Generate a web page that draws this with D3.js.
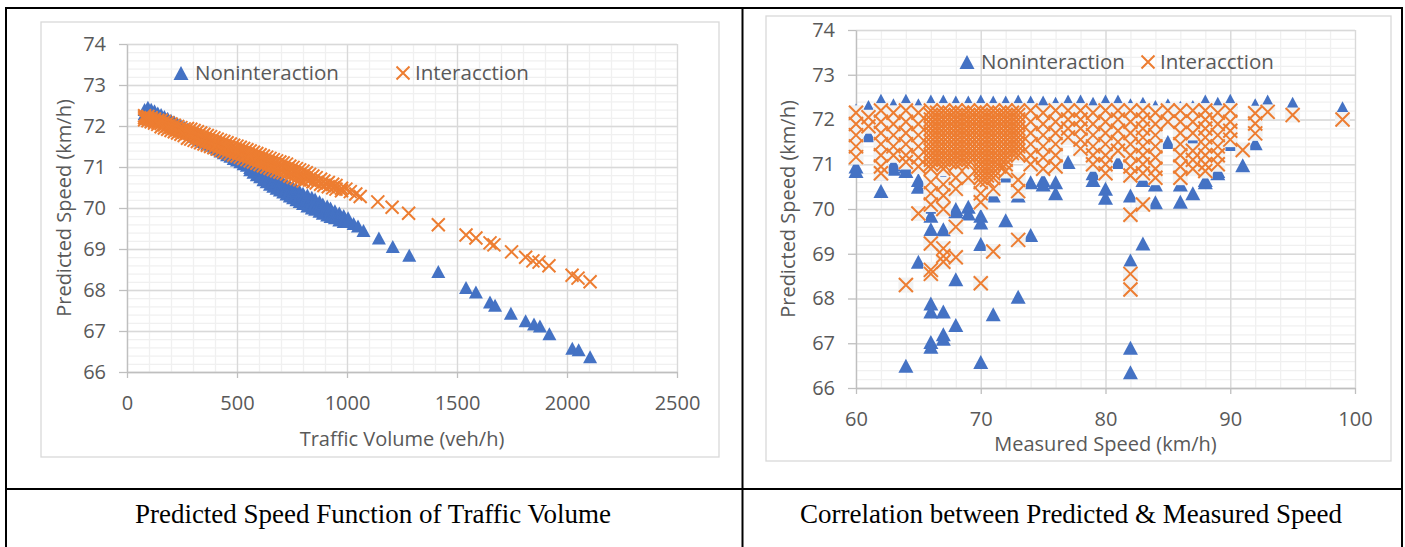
<!DOCTYPE html>
<html>
<head>
<meta charset="utf-8">
<script src="https://cdn.jsdelivr.net/npm/d3@7"></script>
<style>
body { margin: 0; background: #fff; }
svg text { font-family: "Open Sans", sans-serif; fill: #595959; }
svg text.caption { font-family: "Liberation Serif", "Times New Roman", serif; fill: #000; }
</style>
</head>
<body>
<script>
// ---- data ----
var seriesNames = ["Noninteraction", "Interacction"];
var captions = ["Predicted Speed Function of Traffic Volume", "Correlation between Predicted & Measured Speed"];
var axisTitles = ["Traffic Volume (veh/h)", "Measured Speed (km/h)", "Predicted Speed (km/h)"];
var volumeTicks = [0, 500, 1000, 1500, 2000, 2500];
var measuredTicks = [60, 70, 80, 90, 100];
var speedTicks = [66, 67, 68, 69, 70, 71, 72, 73, 74];

// left chart: traffic volume vs predicted speed (speeds listed per volume)
var volNon = [80, 95, 110, 125, 140, 155, 170, 185, 200, 215, 230, 245, 260, 275, 290, 305, 320, 335, 350, 365,
	380, 395, 410, 425, 440, 455, 470, 485, 500, 515, 530, 545, 560, 575, 590, 605, 620, 635, 650, 665,
	680, 695, 710, 725, 740, 755, 770, 785, 800, 820, 840, 855, 875, 890, 910, 925, 945, 965, 985, 1005,
	1030, 1050, 1075, 1145, 1208, 1283, 1415, 1541, 1586, 1650, 1673, 1745, 1812, 1850, 1877, 1920, 2024, 2053, 2105];
var speedNon = [
	[72.30, 72.40], [72.46, 72.38], [72.41, 72.33], [72.37, 72.29], [72.32, 72.24], [72.28, 72.20], [72.23, 72.15], [72.19, 72.11],
	[72.14, 72.06], [72.10, 72.02], [72.05, 71.97], [72.01, 71.93], [71.97, 71.89], [71.92, 71.84], [71.88, 71.80], [71.83, 71.75],
	[71.79, 71.71], [71.74, 71.66], [71.70, 71.62], [71.65, 71.57], [71.61, 71.53], [71.56, 71.48], [71.52, 71.44], [71.47, 71.39],
	[71.43, 71.35], [71.38, 71.30], [71.34, 71.26], [71.29, 71.21], [71.25, 71.17], [71.21, 71.13], [71.16, 71.08], [71.12, 71.04],
	[71.07, 70.99, 70.93], [71.03, 70.95, 70.87], [70.98, 70.90, 70.81], [70.94, 70.86, 70.76], [70.89, 70.81, 70.69],
	[70.85, 70.77, 70.64], [70.80, 70.72, 70.58], [70.76, 70.68, 70.53], [70.71, 70.63, 70.48], [70.67, 70.59, 70.44],
	[70.62, 70.54, 70.39], [70.58, 70.50, 70.34], [70.53, 70.45, 70.29], [70.49, 70.41, 70.25], [70.45, 70.35, 70.20],
	[70.40, 70.32, 70.16], [70.36, 70.26, 70.11], [70.32, 70.20, 70.05], [70.26, 70.16, 70.00], [70.22, 70.12, 69.97],
	[70.16, 70.06, 69.92], [70.10, 70.00, 69.87], [70.05, 69.96, 69.83], [70.00, 69.90, 69.79], [69.93, 69.85, 69.76],
	[69.88, 69.78, 69.71], [69.82, 69.74, 69.67], [69.76, 69.68], [69.62], [69.56], [69.45], [69.27], [69.06], [68.85], [68.45],
	[68.06], [67.95], [67.71], [67.63], [67.43], [67.25], [67.17], [67.12], [66.93], [66.58], [66.54], [66.37]
];
var volInt = [80, 95, 110, 125, 140, 155, 170, 185, 200, 215, 230, 245, 260, 275, 290, 305, 320, 335, 350, 365,
	380, 395, 410, 425, 440, 455, 470, 485, 500, 515, 530, 545, 560, 575, 590, 605, 620, 635, 650, 665,
	680, 695, 710, 725, 740, 755, 770, 785, 800, 815, 830, 845, 860, 880, 895, 915, 935, 950, 975, 995,
	1015, 1040, 1060, 1140, 1205, 1280, 1415, 1541, 1586, 1650, 1668, 1748, 1812, 1845, 1873, 1918, 2023, 2050, 2105];
var speedInt = [
	[72.25, 72.20, 72.15], [72.23, 72.18, 72.13], [72.20, 72.15, 72.10], [72.17, 72.12, 72.07], [72.14, 72.09, 72.04],
	[72.14, 72.06, 71.98], [72.11, 72.03, 71.95], [72.08, 72.00, 71.92], [72.05, 71.97, 71.89], [72.02, 71.94, 71.86],
	[71.99, 71.91, 71.83], [71.96, 71.88, 71.80], [71.93, 71.85, 71.77], [71.94, 71.82, 71.70], [71.92, 71.80, 71.68],
	[71.89, 71.77, 71.65], [71.86, 71.74, 71.62], [71.83, 71.71, 71.59], [71.80, 71.68, 71.56], [71.77, 71.65, 71.53],
	[71.74, 71.62, 71.50], [71.71, 71.59, 71.47], [71.68, 71.56, 71.44], [71.65, 71.53, 71.41], [71.62, 71.50, 71.38],
	[71.59, 71.47, 71.35], [71.56, 71.44, 71.32], [71.53, 71.41, 71.29], [71.51, 71.39, 71.27], [71.48, 71.36, 71.24],
	[71.45, 71.33, 71.21], [71.42, 71.30, 71.18], [71.39, 71.27, 71.15], [71.36, 71.24, 71.12], [71.33, 71.21, 71.09],
	[71.30, 71.18, 71.06], [71.27, 71.15, 71.03], [71.24, 71.12, 71.00], [71.21, 71.09, 70.97], [71.18, 71.06, 70.94],
	[71.15, 71.03, 70.91], [71.12, 71.00, 70.88], [71.10, 70.98, 70.86], [71.07, 70.95, 70.83], [71.02, 70.90, 70.78],
	[70.99, 70.87, 70.75], [70.96, 70.84, 70.72], [70.93, 70.81, 70.69], [70.90, 70.78, 70.66], [70.86, 70.70],
	[70.82, 70.68], [70.78, 70.64], [70.74, 70.61], [70.70, 70.58], [70.66, 70.55], [70.62, 70.52], [70.58, 70.49],
	[70.55, 70.46], [70.48, 70.42], [70.46], [70.40], [70.34], [70.28], [70.15], [70.02], [69.87], [69.59],
	[69.34], [69.27], [69.15], [69.10], [68.93], [68.80], [68.71], [68.68], [68.59], [68.36], [68.29], [68.20]
];

// right chart: measured speed vs predicted speed (speeds listed per measured speed)
var measured = [60, 61, 62, 63, 64, 65, 66, 67, 68, 69, 70, 71, 72, 73, 74, 75, 76, 77, 78, 79,
	80, 81, 82, 83, 84, 85, 86, 87, 88, 89, 90, 91, 92, 93, 95, 99,
	66.5, 67.5, 68.5, 69.5, 70.5, 71.5, 72.5];
var predNon = [
	[72.2, 70.95, 70.85], [72.28, 71.65], [72.42, 70.8, 70.4], [72.32, 71.5, 71.0, 70.9], [72.42, 70.95, 70.85, 66.5],
	[72.32, 70.65, 70.5, 68.82], [72.4, 70.05, 69.85, 69.55, 67.89, 67.71, 67.03, 66.92], [72.4, 70.7, 69.55, 67.71, 67.2, 67.1],
	[72.38, 70.0, 69.95, 68.43, 67.41], [72.38, 70.05, 69.9], [72.4, 70.6, 69.85, 69.7, 69.22, 66.58], [72.38, 70.55, 70.3, 67.65],
	[72.38, 70.75, 69.75], [72.4, 70.6, 70.3, 68.04], [72.38, 70.6, 69.42], [72.38, 70.65, 70.55], [72.35, 70.6, 70.35],
	[72.4, 71.05], [72.4, 71.6], [72.35, 70.8, 70.65],
	[72.4, 70.45, 70.25], [72.4, 71.05], [72.32, 70.3, 68.85, 66.9, 66.35], [72.35, 70.65, 69.23], [72.28, 70.55, 70.15],
	[72.32, 71.5], [72.26, 70.55, 70.16], [72.28, 71.6, 70.35], [72.4, 70.65, 70.6], [72.35, 70.85, 70.8],
	[72.42, 71.45], [70.98], [72.32, 71.47], [72.4], [72.35], [72.25],
	[], [], [], [], [], [], []
];
var predInt = [
	[72.15, 71.9, 71.65, 71.4, 71.16], [72.05, 71.85], [72.2, 71.95, 71.7, 71.45, 71.2, 70.95, 70.8],
	[72.15, 71.9, 71.65, 71.4, 71.2], [72.2, 71.95, 71.7, 71.45, 71.2, 71.05, 68.3], [72.15, 71.9, 71.65, 71.4, 71.15, 70.95, 69.9],
	[72.2, 72.1, 72.0, 71.9, 71.8, 71.7, 71.6, 71.5, 71.4, 71.3, 71.2, 71.1, 71.0, 70.9, 70.6, 70.35, 70.1, 69.23, 68.64, 68.55],
	[72.2, 72.1, 72.0, 71.9, 71.8, 71.7, 71.6, 71.5, 71.4, 71.3, 71.2, 71.1, 71.0, 70.9, 70.55, 70.3, 70.0, 69.12, 68.95, 68.82],
	[72.2, 72.1, 72.0, 71.9, 71.8, 71.7, 71.6, 71.5, 71.4, 71.3, 71.2, 71.1, 71.0, 70.7, 70.45, 69.6, 68.92],
	[72.2, 72.1, 72.0, 71.9, 71.8, 71.7, 71.6, 71.5, 71.4, 71.3, 71.2, 71.1, 71.0, 70.7],
	[72.2, 72.1, 72.0, 71.9, 71.8, 71.7, 71.6, 71.5, 71.4, 71.3, 71.2, 71.1, 71.0, 70.9, 70.8, 70.7, 70.6, 70.35, 70.15, 68.34],
	[72.2, 72.1, 72.0, 71.9, 71.8, 71.7, 71.6, 71.5, 71.4, 71.3, 71.2, 71.1, 71.0, 70.9, 70.8, 70.7, 70.45, 69.05],
	[72.2, 72.1, 72.0, 71.9, 71.8, 71.7, 71.6, 71.5, 71.4, 71.3, 71.2, 71.1, 71.0, 70.85],
	[72.2, 72.1, 72.0, 71.9, 71.8, 71.7, 71.6, 71.5, 71.4, 71.3, 71.2, 70.65, 70.4, 69.31],
	[72.2, 71.95, 71.7, 71.45, 71.2, 71.0], [72.15, 71.9, 71.65, 71.4, 71.15, 70.9],
	[72.2, 71.95, 71.7, 71.45, 71.2, 70.95], [72.2, 72.0, 71.8, 71.6], [72.2, 72.0, 71.8, 71.55, 71.35],
	[72.15, 71.9, 71.65, 71.4, 71.2, 71.0],
	[72.2, 71.95, 71.7, 71.45, 71.2, 71.0, 70.8], [72.2, 72.0, 71.75, 71.5, 71.3],
	[72.2, 71.95, 71.7, 71.45, 71.2, 70.95, 70.75, 69.87, 68.55, 68.2], [72.2, 72.0, 71.8, 71.6, 71.4, 71.2, 71.0, 70.8, 70.1],
	[72.15, 71.9, 71.65, 71.4, 71.15, 70.9, 70.7], [72.2, 71.95], [72.2, 71.95, 71.7, 71.45, 71.2, 70.95, 70.7],
	[72.2, 71.95, 71.7, 71.3, 71.1, 70.9], [72.2, 72.0, 71.8, 71.6, 71.4, 71.2, 71.0, 70.85], [72.15, 71.9, 71.65, 71.4, 71.2, 71.0],
	[72.2, 71.95, 71.75, 71.55], [71.32], [72.14, 71.91, 71.69], [72.17], [72.1], [72.0],
	[72.15, 72.05, 71.95, 71.85, 71.75, 71.65, 71.55, 71.45, 71.35, 71.25, 71.15, 71.05],
	[72.15, 72.05, 71.95, 71.85, 71.75, 71.65, 71.55, 71.45, 71.35, 71.25, 71.15, 71.05],
	[72.15, 72.05, 71.95, 71.85, 71.75, 71.65, 71.55, 71.45, 71.35, 71.25, 71.15, 71.05],
	[72.15, 72.05, 71.95, 71.85, 71.75, 71.65, 71.55, 71.45, 71.35, 71.25, 71.15],
	[72.15, 72.05, 71.95, 71.85, 71.75, 71.65, 71.55, 71.45, 71.35, 71.25, 71.15, 71.05, 70.95, 70.85, 70.75, 70.65],
	[72.15, 72.05, 71.95, 71.85, 71.75, 71.65, 71.55, 71.45, 71.35, 71.25, 71.15, 71.05, 70.95],
	[72.15, 72.05, 71.95, 71.85, 71.75, 71.65, 71.55, 71.45, 71.35, 71.25]
];

var blue = "#4472C4", orange = "#ED7D31";

var svg = d3.select("body").append("svg")
	.attr("width", 1405)
	.attr("height", 547);

//table lines
svg.append("rect").attr("x", 6).attr("y", 8).attr("width", 1396).attr("height", 560)
	.attr("fill", "none").attr("stroke", "#000").attr("stroke-width", 2);
svg.append("line").attr("x1", 742.5).attr("x2", 742.5).attr("y1", 8).attr("y2", 547)
	.attr("stroke", "#000").attr("stroke-width", 2);
svg.append("line").attr("x1", 6).attr("x2", 1402).attr("y1", 489).attr("y2", 489)
	.attr("stroke", "#000").attr("stroke-width", 2);

//captions
svg.selectAll(".caption").data(captions).enter().append("text")
	.attr("class", "caption")
	.attr("x", function(d, i) { return i == 0 ? 373 : 1071; })
	.attr("y", 523)
	.attr("text-anchor", "middle")
	.attr("font-size", 27)
	.text(function(d) { return d; });

var triPath = function(w, h) {
	return "M0," + (-h / 2) + "L" + (w / 2) + "," + (h / 2) + "L" + (-w / 2) + "," + (h / 2) + "Z";
};
var xPath = function(s) {
	return "M" + (-s) + "," + (-s) + "L" + s + "," + s + "M" + (-s) + "," + s + "L" + s + "," + (-s);
};
//flatten {x: [speeds]} lists into points
var toPoints = function(xs, lists) {
	return d3.merge(xs.map(function(v, i) {
		return lists[i].map(function(s) { return { x: v, y: s }; });
	}));
};

var drawPanel = function(c) {
	var g = svg.append("g");

	//chart box
	g.append("rect")
		.attr("x", c.box[0]).attr("y", c.box[1]).attr("width", c.box[2]).attr("height", c.box[3])
		.attr("fill", "#fff").attr("stroke", "#d9d9d9").attr("stroke-width", 1.3);

	var x = d3.scaleLinear().domain(c.xDomain).range([c.plot[0], c.plot[1]]);
	var y = d3.scaleLinear().domain([66, 74]).range([c.plot[3], c.plot[2]]);
	var h = c.plot[3] - c.plot[2], w = c.plot[1] - c.plot[0];

	var xMinor = d3.range(c.xDomain[0], c.xDomain[1] + 0.001, c.xMinor);
	var yMinor = d3.range(0, 41).map(function(i) { return 66 + i * 0.2; });

	var gridStyle = function(color) {
		return function(s) {
			s.select(".domain").remove();
			s.selectAll("line").attr("stroke", color).attr("stroke-width", 1.3);
		};
	};
	//minor grid
	g.append("g")
		.attr("transform", "translate(0," + c.plot[3] + ")")
		.call(d3.axisBottom(x).tickValues(xMinor).tickSize(-h).tickFormat(""))
		.call(gridStyle("#f0f0f0"));
	g.append("g")
		.attr("transform", "translate(" + c.plot[0] + ",0)")
		.call(d3.axisLeft(y).tickValues(yMinor).tickSize(-w).tickFormat(""))
		.call(gridStyle("#f0f0f0"));
	//major grid
	g.append("g")
		.attr("transform", "translate(0," + c.plot[3] + ")")
		.call(d3.axisBottom(x).tickValues(c.xTicks).tickSize(-h).tickFormat(""))
		.call(gridStyle("#d9d9d9"));
	g.append("g")
		.attr("transform", "translate(" + c.plot[0] + ",0)")
		.call(d3.axisLeft(y).tickValues(speedTicks).tickSize(-w).tickFormat(""))
		.call(gridStyle("#d9d9d9"));

	//axes
	g.append("g")
		.attr("transform", "translate(0," + c.plot[3] + ")")
		.call(d3.axisBottom(x).tickValues(c.xTicks).tickSize(6).tickSizeOuter(0).tickFormat(d3.format("d")))
		.call(function(s) {
			s.select(".domain").attr("stroke", "#bfbfbf").attr("stroke-width", 1.3);
			s.selectAll(".tick line").attr("stroke", "#bfbfbf").attr("stroke-width", 1.3);
			s.selectAll("text").attr("y", c.xTickOffset).attr("dy", "0.35em")
				.attr("font-size", 20).attr("fill", "#595959").attr("font-family", "Open Sans");
		});
	g.append("g")
		.attr("transform", "translate(" + c.plot[0] + ",0)")
		.call(d3.axisLeft(y).tickValues(speedTicks).tickSize(8).tickSizeOuter(0).tickPadding(13))
		.call(function(s) {
			s.select(".domain").attr("stroke", "#bfbfbf").attr("stroke-width", 1.3);
			s.selectAll(".tick line").attr("stroke", "#bfbfbf").attr("stroke-width", 1.3);
			s.selectAll("text").attr("font-size", 20).attr("fill", "#595959").attr("font-family", "Open Sans");
		});

	//axis titles
	g.append("text")
		.attr("x", (c.plot[0] + c.plot[1]) / 2).attr("y", c.xTitleY)
		.attr("text-anchor", "middle").attr("dy", "0.35em").attr("font-size", 20)
		.text(c.xTitle);
	g.append("text")
		.attr("transform", "translate(" + c.yTitleX + "," + ((c.plot[2] + c.plot[3]) / 2) + ") rotate(-90)")
		.attr("text-anchor", "middle").attr("dy", "0.35em").attr("font-size", 20)
		.text(axisTitles[2]);

	//Noninteraction triangles
	g.append("g").selectAll("path")
		.data(c.non)
		.enter().append("path")
		.attr("transform", function(d) { return "translate(" + x(d.x) + "," + y(d.y) + ")"; })
		.attr("d", triPath(c.triW, c.triH))
		.attr("fill", blue);

	//Interacction crosses: marker fills first, then all the strokes on top
	if (c.crossBg) {
		g.append("g").selectAll("rect")
			.data(c.int)
			.enter().append("rect")
			.attr("x", function(d) { return x(d.x) - c.crossBg / 2; })
			.attr("y", function(d) { return y(d.y) - c.crossBg / 2; })
			.attr("width", c.crossBg).attr("height", c.crossBg)
			.attr("fill", "#f2f2f2");
	}
	g.append("g").selectAll("path")
		.data(c.int)
		.enter().append("path")
		.attr("transform", function(d) { return "translate(" + x(d.x) + "," + y(d.y) + ")"; })
		.attr("d", xPath(c.xs))
		.attr("stroke", orange).attr("stroke-width", 2).attr("fill", "none");

	//legend
	g.append("path")
		.attr("transform", "translate(" + c.legend[0] + "," + c.legend[1] + ")")
		.attr("d", triPath(15, 14)).attr("fill", blue);
	g.append("text")
		.attr("x", c.legend[0] + 14).attr("y", c.legend[1])
		.attr("dy", "0.35em").attr("font-size", 20.5)
		.text(seriesNames[0]);
	g.append("path")
		.attr("transform", "translate(" + c.legend[2] + "," + c.legend[1] + ")")
		.attr("d", xPath(6.5)).attr("stroke", orange).attr("stroke-width", 2);
	g.append("text")
		.attr("x", c.legend[2] + 12).attr("y", c.legend[1])
		.attr("dy", "0.35em").attr("font-size", 20.5)
		.text(seriesNames[1]);
};

drawPanel({
	box: [41, 22, 678, 435],
	plot: [127, 677, 44, 372],
	xDomain: [0, 2500], xTicks: volumeTicks, xMinor: 100,
	xTickOffset: 31, xTitleY: 439, yTitleX: 64,
	xTitle: axisTitles[0],
	non: toPoints(volNon, speedNon),
	int: toPoints(volInt, speedInt),
	triW: 14, triH: 13, xs: 6.5, crossBg: 0,
	legend: [181, 73, 403]
});

drawPanel({
	box: [766, 16, 625, 445],
	plot: [856, 1355, 30, 388],
	xDomain: [60, 100], xTicks: measuredTicks, xMinor: 2,
	xTickOffset: 31, xTitleY: 444, yTitleX: 788,
	xTitle: axisTitles[1],
	non: toPoints(measured, predNon),
	int: toPoints(measured, predInt),
	triW: 15, triH: 14, xs: 7, crossBg: 15,
	legend: [967, 62, 1148]
});
</script>
</body>
</html>
